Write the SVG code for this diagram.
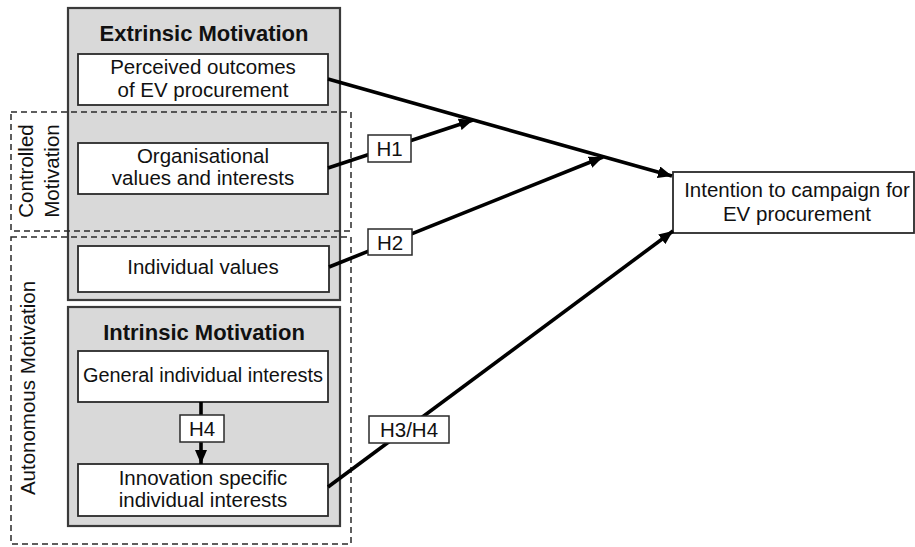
<svg xmlns="http://www.w3.org/2000/svg" width="915" height="547" viewBox="0 0 915 547">
<defs>
<style>
text{font-family:"Liberation Sans",Arial,sans-serif;font-size:20.5px;fill:#111;text-anchor:middle}
.title{font-weight:bold;font-size:22px}
.grp{fill:#d9d9d9;stroke:#3a3a3a;stroke-width:2.2}
.box{fill:#fff;stroke:#2a2a2a;stroke-width:1.8}
.dash{fill:none;stroke:#2a2a2a;stroke-width:1.5;stroke-dasharray:6 4}
.lbl{fill:#fff;stroke:#2a2a2a;stroke-width:1.5}
.con{stroke:#000;stroke-width:3.6;fill:none}
</style>
<marker id="ah" markerUnits="userSpaceOnUse" markerWidth="16" markerHeight="12" refX="14" refY="6" orient="auto">
<path d="M0,0 L14,6 L0,12 Z" fill="#000"/>
</marker>
</defs>
<rect width="915" height="547" fill="#fff"/>

<g id="extrinsic">
<rect class="grp" x="68" y="8" width="272" height="292"/>
<text class="title" x="204" y="41">Extrinsic Motivation</text>
</g>
<g id="intrinsic">
<rect class="grp" x="68" y="307" width="272" height="219"/>
<text class="title" x="204" y="340">Intrinsic Motivation</text>
</g>

<g id="controlled">
<rect class="dash" x="11" y="112" width="340" height="119"/>
<text transform="translate(33,171) rotate(-90)">Controlled</text>
<text transform="translate(59,171) rotate(-90)">Motivation</text>
</g>
<g id="autonomous">
<rect class="dash" x="11" y="237" width="340" height="307"/>
<text transform="translate(35,388) rotate(-90)">Autonomous Motivation</text>
</g>

<g id="perceived">
<rect class="box" x="78" y="54" width="250" height="51"/>
<text x="203" y="74">Perceived outcomes</text>
<text x="203" y="97">of EV procurement</text>
</g>
<g id="organisational">
<rect class="box" x="78" y="143" width="250" height="51"/>
<text x="203" y="163">Organisational</text>
<text x="203" y="185">values and interests</text>
</g>
<g id="individual">
<rect class="box" x="78" y="246" width="251" height="46"/>
<text x="203" y="274">Individual values</text>
</g>
<g id="general">
<rect class="box" x="78" y="351" width="250" height="51"/>
<text x="203" y="382" textLength="240" lengthAdjust="spacingAndGlyphs">General individual interests</text>
</g>
<g id="innovation">
<rect class="box" x="78" y="464" width="250" height="52"/>
<text x="203" y="485">Innovation specific</text>
<text x="203" y="507">individual interests</text>
</g>
<g id="intention">
<rect class="box" x="673" y="172" width="241" height="61"/>
<text x="797" y="197">Intention to campaign for</text>
<text x="797" y="221">EV procurement</text>
</g>

<g id="connectors">
<line class="con" x1="328" y1="79" x2="672" y2="176" marker-end="url(#ah)"/>
<line class="con" x1="328" y1="168" x2="473" y2="120" marker-end="url(#ah)"/>
<line class="con" x1="329" y1="267" x2="603" y2="157" marker-end="url(#ah)"/>
<line class="con" x1="328" y1="487" x2="673" y2="231" marker-end="url(#ah)"/>
<line class="con" x1="201" y1="402" x2="201" y2="464" marker-end="url(#ah)"/>
<g id="h1"><rect class="lbl" x="368" y="135" width="43" height="27"/><text x="389.5" y="156">H1</text></g>
<g id="h2"><rect class="lbl" x="368" y="229" width="44" height="26"/><text x="390" y="250">H2</text></g>
<g id="h3h4"><rect class="lbl" x="369" y="416" width="80" height="27"/><text x="409" y="437">H3/H4</text></g>
<g id="h4"><rect class="lbl" x="180" y="415" width="44" height="27"/><text x="202" y="436">H4</text></g>
</g>
</svg>
